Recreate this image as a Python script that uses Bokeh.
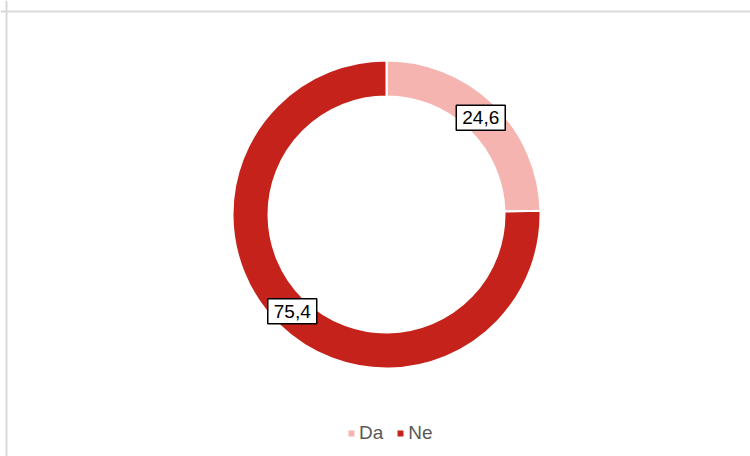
import math
from bokeh.plotting import figure
from bokeh.models import ColumnDataSource, Label, Legend, LegendItem, Span
from bokeh.embed import file_html
from bokeh.resources import INLINE

categories = ["Da", "Ne"]
values = [24.6, 75.4]
value_labels = ["24,6", "75,4"]
colors = ["#F5B4B0", "#C4221A"]

W, H = 750, 456
cx, cy = 386, 242
r_out, r_in = 154, 118

total = sum(values)
starts, ends, lx, ly = [], [], [], []
cum = 0.0
r_mid = (r_out + r_in) / 2 - 1
for v in values:
    a0 = math.pi / 2 - 2 * math.pi * cum / total
    a1 = math.pi / 2 - 2 * math.pi * (cum + v) / total
    mid = math.pi / 2 - 2 * math.pi * (cum + v / 2) / total
    starts.append(a0)
    ends.append(a1)
    lx.append(cx + r_mid * math.cos(mid))
    ly.append(cy + r_mid * math.sin(mid))
    cum += v

src = ColumnDataSource(dict(cat=categories, val=values, lab=value_labels, color=colors,
                            start=starts, end=ends, lx=lx, ly=ly))

p = figure(width=W, height=H, x_range=(0, W), y_range=(0, H),
           output_backend="svg", toolbar_location=None,
           min_border_left=0, min_border_right=0, min_border_top=0, min_border_bottom=0)
p.axis.visible = False
p.grid.visible = False
p.outline_line_color = None
p.background_fill_color = "white"
p.border_fill_color = "white"

wedges = p.annular_wedge(x=cx, y=cy, inner_radius=r_in, outer_radius=r_out,
                         start_angle="start", end_angle="end", direction="clock",
                         fill_color="color", line_color="white", line_width=2, source=src)

for x, y, t in zip(lx, ly, value_labels):
    p.add_layout(Label(x=x, y=y, text=t,
                       text_align="center", text_baseline="middle",
                       text_font="Liberation Sans", text_font_size="19px", text_color="black",
                       background_fill_color="white", border_line_color="black",
                       border_line_width=1.5, padding=6))

# border lines of chart area
p.add_layout(Span(location=6, dimension="height", line_color="#D9D9D9", line_width=2))
p.add_layout(Span(location=H - 11, dimension="width", line_color="#D9D9D9", line_width=2))

items = [LegendItem(label=c, renderers=[wedges], index=i) for i, c in enumerate(categories)]

legend = Legend(items=items, orientation="horizontal", location=(346, 12),
                glyph_width=10, glyph_height=10, label_standoff=3, spacing=12,
                padding=0, margin=0, border_line_color=None, background_fill_alpha=0,
                label_text_font="Liberation Sans", label_text_font_size="19px",
                label_text_color="#595959", label_height=20)
p.add_layout(legend, "center")

open("out.html", "w").write(file_html(p, INLINE))
